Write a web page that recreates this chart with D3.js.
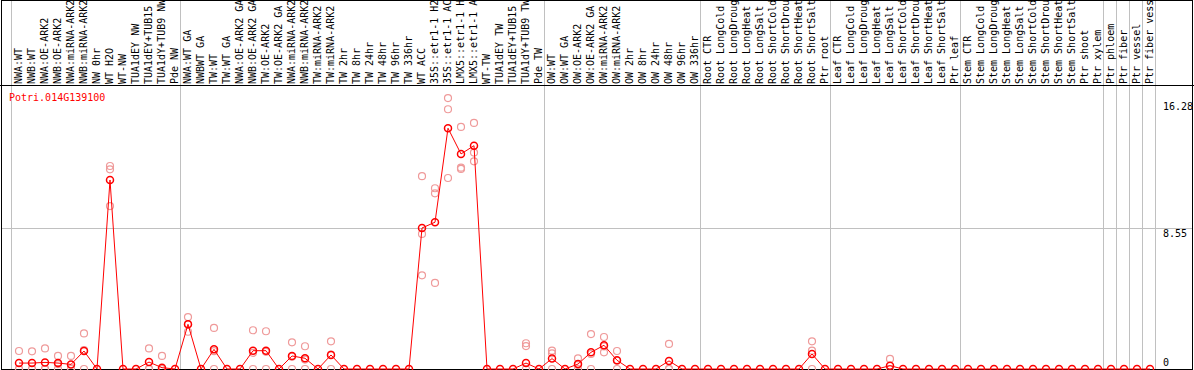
<!DOCTYPE html>
<html>
<head>
<meta charset="utf-8">
<script src="https://cdn.jsdelivr.net/npm/d3@7"></script>
<style>
  body { margin: 0; background: #fff; }
  svg { display: block; }
  text { font-family: "DejaVu Sans Mono", "Liberation Mono", monospace; font-size: 10px; }
</style>
</head>
<body>
<svg id="chart" width="1194" height="370"></svg>
<script>
// sample names (shown truncated to 14 chars like the original)
const samples = [
  'NWA:WT', 'NWB:WT', 'NWA:OE-ARK2', 'NWB:OE-ARK2', 'NWA:miRNA-ARK2', 'NWB:miRNA-ARK2',
  'NW 0hr', 'WT H2O', 'WT-NW', 'TUA1dEY NW', 'TUA1dEY+TUB15 NW', 'TUA1dY+TUB9 NW', 'Pde NW',
  'NWA:WT GA', 'NWBWT GA', 'TW:WT', 'TW:WT GA', 'NWA:OE-ARK2 GA', 'NWB:OE-ARK2 GA',
  'TW:OE-ARK2', 'TW:OE-ARK2 GA', 'NWA:miRNA-ARK2', 'NWB:miRNA-ARK2', 'TW:miRNA-ARK2',
  'TW:miRNA-ARK2', 'TW 2hr', 'TW 8hr', 'TW 24hr', 'TW 48hr', 'TW 96hr', 'TW 336hr', 'WT ACC',
  '35S::etr1-1 H2O', '35S::etr1-1 ACC', 'LMX5::etr1-1 H2O', 'LMX5::etr1-1 ACC', 'WT-TW',
  'TUA1dEY TW', 'TUA1dEY+TUB15 TW', 'TUA1dY+TUB9 TW', 'Pde TW',
  'OW:WT', 'OW:WT GA', 'OW:OE-ARK2', 'OW:OE-ARK2 GA', 'OW:miRNA-ARK2', 'OW:miRNA-ARK2',
  'OW 2hr', 'OW 8hr', 'OW 24hr', 'OW 48hr', 'OW 96hr', 'OW 336hr',
  'Root CTR', 'Root LongCold', 'Root LongDrought', 'Root LongHeat', 'Root LongSalt',
  'Root ShortCold', 'Root ShortDrought', 'Root ShortHeat', 'Root ShortSalt', 'Ptr root',
  'Leaf CTR', 'Leaf LongCold', 'Leaf LongDrought', 'Leaf LongHeat', 'Leaf LongSalt',
  'Leaf ShortCold', 'Leaf ShortDrought', 'Leaf ShortHeat', 'Leaf ShortSalt', 'Ptr leaf',
  'Stem CTR', 'Stem LongCold', 'Stem LongDrought', 'Stem LongHeat', 'Stem LongSalt',
  'Stem ShortCold', 'Stem ShortDrought', 'Stem ShortHeat', 'Stem ShortSalt', 'Ptr shoot',
  'Ptr xylem', 'Ptr phloem', 'Ptr fiber', 'Ptr vessel', 'Ptr fiber vessel'
];

const means = [
  0.36, 0.36, 0.40, 0.36, 0.28, 1.09, 0, 11.46, 0, 0, 0.42, 0.08, 0,
  2.71, 0, 1.19, 0, 0, 1.11, 1.11, 0, 0.79, 0.65, 0, 0.85, 0, 0, 0, 0, 0, 0,
  8.55, 8.90, 14.60, 13.04, 13.54, 0, 0, 0, 0.36, 0,
  0.63, 0, 0.30, 1.01, 1.44, 0.53, 0, 0, 0, 0.49, 0, 0,
  0, 0, 0, 0, 0, 0, 0, 0, 0.91, 0,
  0, 0, 0, 0, 0.20, 0, 0, 0, 0, 0,
  0, 0, 0, 0, 0, 0, 0, 0, 0, 0, 0, 0, 0, 0, 0
];

const replicates = [
  [1.09, 0, 0], [1.07, 0, 0], [1.25, 0, 0], [0.79, 0.3, 0], [0.79, 0.05, 0], [2.16, 1.15, 0],
  [], [12.31, 12.11, 9.88], [], [], [1.25, 0, 0], [0.79, 0, 0], [],
  [3.15, 2.72, 2.26], [], [2.49, 1.08, 0], [], [], [2.35, 0.98, 0], [2.29, 1.04, 0], [],
  [1.62, 0.75, 0], [1.38, 0.57, 0], [], [1.68, 0.87, 0], [], [], [], [], [], [],
  [11.69, 8.19, 5.68], [10.96, 10.65, 5.22], [16.43, 15.75, 11.58], [14.68, 12.21, 12.13],
  [14.92, 13.12, 12.59], [], [], [], [1.56, 1.39, 0], [],
  [1.11, 0.95, 0], [], [0.65, 0.25, 0], [2.12, 0.91, 0], [1.94, 1.37, 1.01], [1.09, 0.5, 0],
  [], [], [], [1.52, 0, 0], [], [],
  [], [], [], [], [], [], [], [], [1.68, 1.11, 0], [],
  [], [], [], [], [0.61, 0, 0], [], [], [], [], [],
  [], [], [], [], [], [], [], [], [], [], [], [], [], [], []
];

// group separators drawn after these column indices (-1 = before first)
const groupEnds = [-1, 12, 40, 52, 62, 72, 83, 84, 85, 86, 87];
const yTicks = [0, 8.55, 16.28];
const geneName = 'Potri.014G139100';

const W = 1194, H = 370;
const plotTop = 85, plotBottom = 369;
const svg = d3.select('#chart');

const x = d3.scaleLinear().domain([0, samples.length - 1]).range([19, 1150]);
const y = d3.scaleLinear().domain([0, 17.22]).range([plotBottom, plotTop]);

// vertical group lines
svg.append('g')
  .selectAll('line')
  .data(groupEnds)
  .join('line')
  .attr('x1', d => Math.round(x(d) + 5.3) + 0.5)
  .attr('x2', d => Math.round(x(d) + 5.3) + 0.5)
  .attr('y1', 0)
  .attr('y2', plotBottom)
  .attr('stroke', '#c0c0c0');

// mid horizontal grid line
svg.append('line')
  .attr('x1', 1).attr('x2', W - 1)
  .attr('y1', Math.round(y(8.55)) + 0.5).attr('y2', Math.round(y(8.55)) + 0.5)
  .attr('stroke', '#c0c0c0');

// frame
svg.append('rect')
  .attr('x', 1.5).attr('y', 0.5)
  .attr('width', W - 3).attr('height', plotBottom)
  .attr('fill', 'none').attr('stroke', '#000');
svg.append('line')
  .attr('x1', 0).attr('x2', W)
  .attr('y1', plotTop + 0.5).attr('y2', plotTop + 0.5)
  .attr('stroke', '#000');

// rotated sample labels
svg.append('g')
  .selectAll('text')
  .data(samples)
  .join('text')
  .attr('transform', (d, i) => `translate(${x(i) - 0.5},${plotTop - 1}) rotate(-90)`)
  .attr('dominant-baseline', 'central')
  .attr('fill', '#000')
  .text(d => d.substring(0, 14));

// right-side value labels
svg.append('g')
  .selectAll('text')
  .data(yTicks)
  .join('text')
  .attr('x', 1163)
  .attr('y', d => Math.min(y(d) + 2, 359))
  .attr('dominant-baseline', 'hanging')
  .attr('fill', '#000')
  .text(d => d === 0 ? '0' : d.toFixed(2));

// gene name
svg.append('text')
  .attr('x', 9)
  .attr('y', 97)
  .attr('dominant-baseline', 'central')
  .attr('fill', '#ff0000')
  .text(geneName);

// replicate points
const reps = replicates.flatMap((r, i) => r.map(v => ({ i, v })));
svg.append('g')
  .selectAll('circle')
  .data(reps)
  .join('circle')
  .attr('cx', d => x(d.i))
  .attr('cy', d => y(d.v))
  .attr('r', 3.5)
  .attr('fill', 'none')
  .attr('stroke', '#ef9a9a')
  .attr('stroke-width', 1.2);

// mean line
const line = d3.line()
  .x((d, i) => x(i))
  .y(d => y(d));
svg.append('path')
  .datum(means)
  .attr('d', line)
  .attr('fill', 'none')
  .attr('stroke', '#ff0000')
  .attr('stroke-width', 1);

// mean points
svg.append('g')
  .selectAll('circle')
  .data(means)
  .join('circle')
  .attr('cx', (d, i) => x(i))
  .attr('cy', d => y(d))
  .attr('r', 3.5)
  .attr('fill', 'none')
  .attr('stroke', '#ff0000')
  .attr('stroke-width', 1.5);
</script>
</body>
</html>
